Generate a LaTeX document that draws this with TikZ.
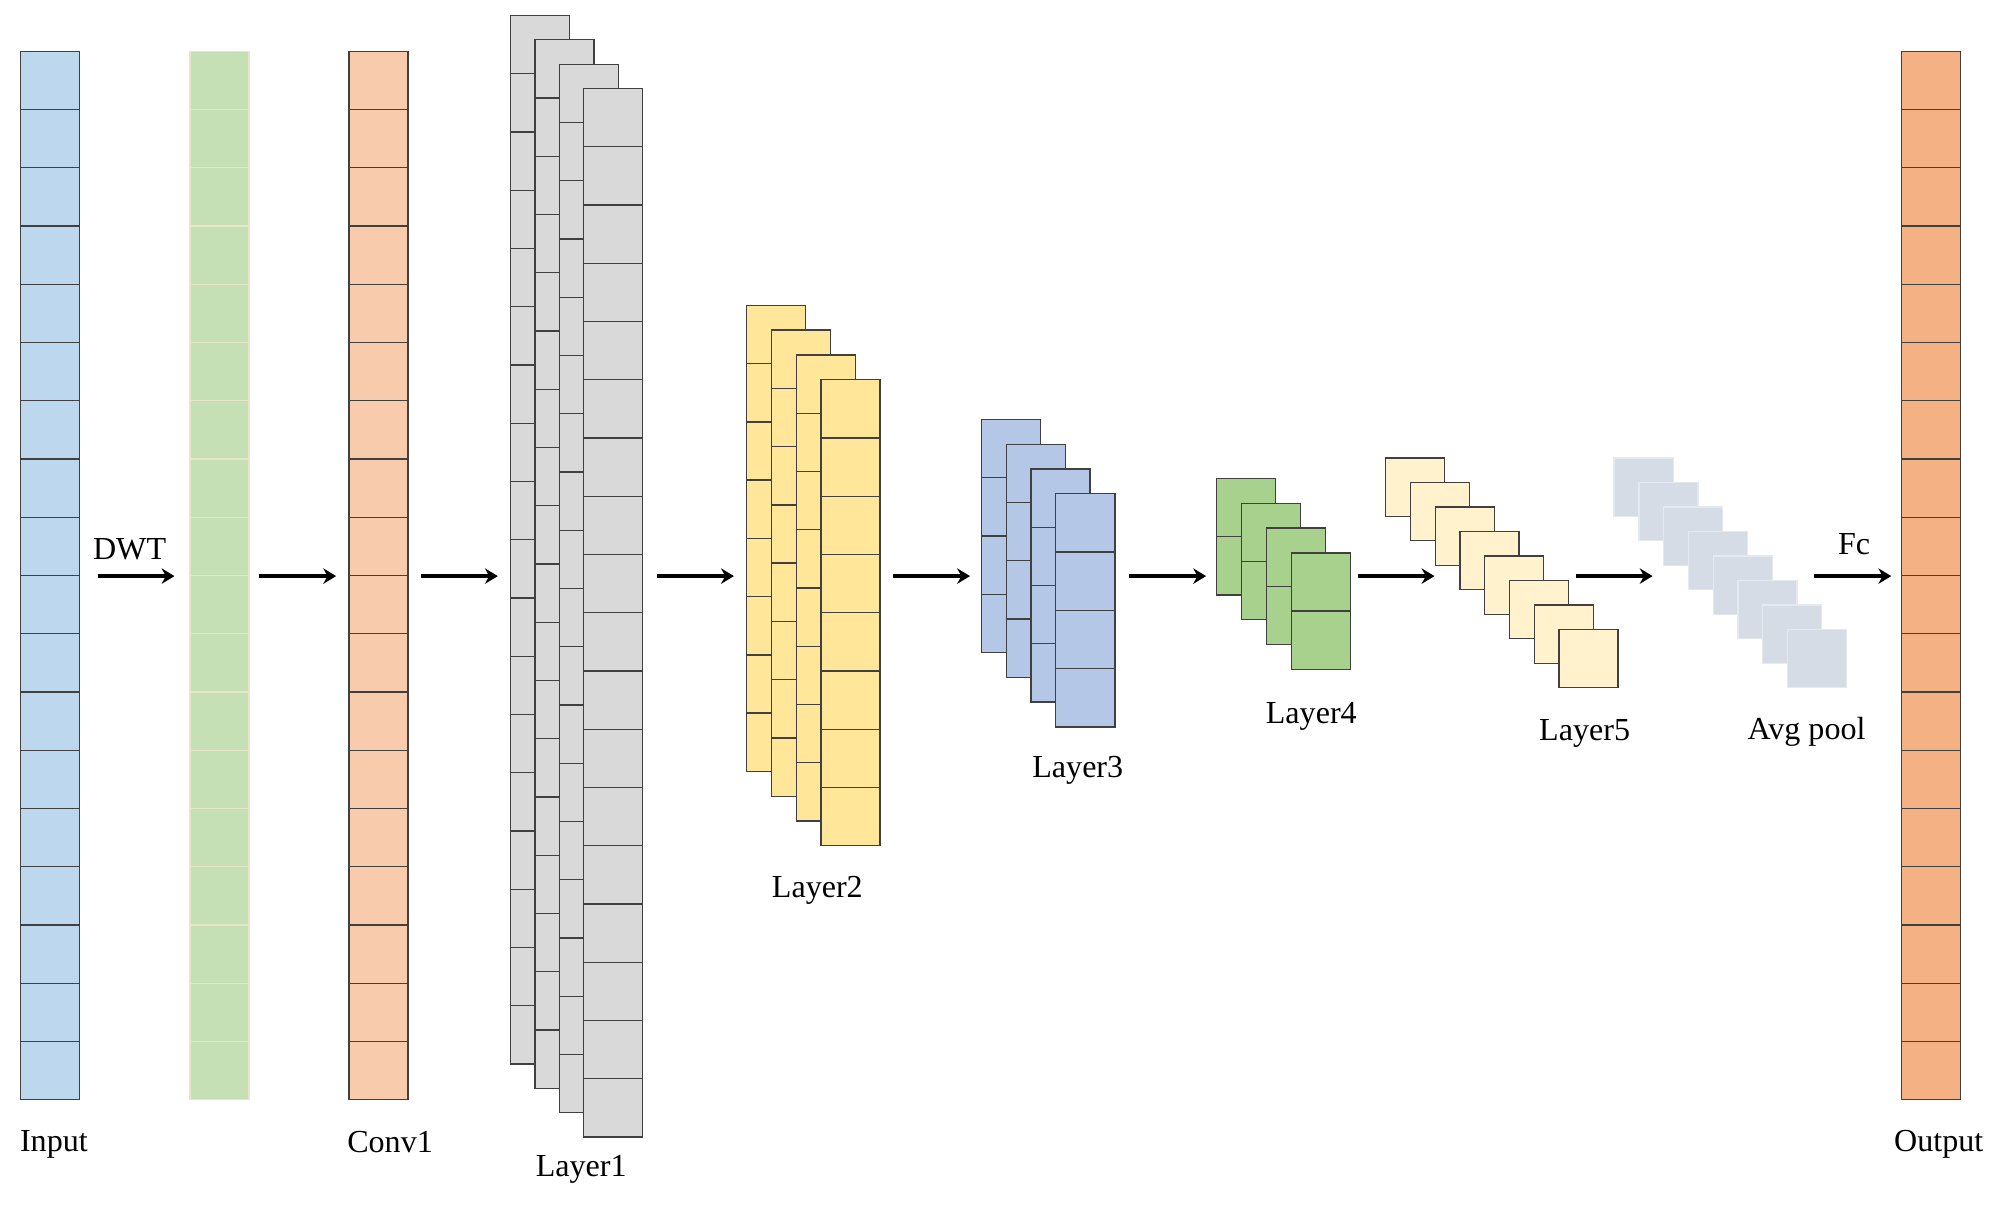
\documentclass[tikz,border=0pt]{standalone}
\usepackage{fontspec}
\setmainfont{Liberation Serif}
\usetikzlibrary{arrows.meta}
\definecolor{cin}{HTML}{BDD7EE}
\definecolor{cgr}{HTML}{C5E0B4}
\definecolor{cgrl}{HTML}{E9E5C8}
\definecolor{cconv}{HTML}{F8CBAD}
\definecolor{cgray}{HTML}{D9D9D9}
\definecolor{cyel}{HTML}{FFE699}
\definecolor{cbl}{HTML}{B4C7E7}
\definecolor{cgn}{HTML}{A9D18E}
\definecolor{ccr}{HTML}{FFF2CC}
\definecolor{cav}{HTML}{D6DCE5}
\definecolor{cavl}{HTML}{E4E9EF}
\definecolor{cout}{HTML}{F4B183}
\begin{document}
\begin{tikzpicture}[x=1pt,y=-1pt,
  lbl/.style={font=\fontsize{25}{30}\selectfont},
  arr/.style={line width=3pt,-{Stealth[length=10pt,width=12pt]}}]
\useasboundingbox (0,0) rectangle (1565,941);
% column: x, ytop, ncells, fill, draw
\newcommand\mycolumn[5]{%
  \foreach \k in {1,...,#3}{%
    \filldraw[fill=#4,draw=#5,line width=1pt] (#1,{#2+(\k-1)*45.4}) rectangle ++(46,45.4);}}
% stack: x0, y0, ncols, dx, dy, ncells, fill, draw
\newcommand\mystack[8]{%
  \foreach \j in {0,...,\numexpr#3-1\relax}{%
    \mycolumn{#1+\j*#4}{#2+\j*#5}{#6}{#7}{#8}}}
\mycolumn{16}{40}{18}{cin}{black!75}
\mycolumn{148}{40}{18}{cgr}{cgrl}
\mycolumn{272}{40}{18}{cconv}{black!75}
\mystack{398}{12}{4}{19}{19}{18}{cgray}{black!75}
\mystack{582}{238}{4}{19.3}{19.3}{8}{cyel}{black!75}
\mystack{765}{327}{4}{19.3}{19.3}{4}{cbl}{black!75}
\mystack{948}{373}{4}{19.6}{19.3}{2}{cgn}{black!75}
\mystack{1080}{357}{8}{19.3}{19.1}{1}{ccr}{black!75}
\mystack{1258}{357}{8}{19.3}{19.1}{1}{cav}{cavl}
\mycolumn{1482}{40}{18}{cout}{black!75}
% arrows
\foreach \a/\b [count=\i] in {76/136,202/262,328/388,512/572,696/756,880/940,1058/1118,1228/1288,1414/1474}{
  \coordinate (s\i) at (\a,449); \coordinate (e\i) at (\b,449);
  \draw[arr] (s\i) -- (e\i);}
\node[lbl] (dwt) at (101,428) {DWT};
\node[lbl] (fc) at (1445,424) {Fc};
\node[lbl] (l0) at (42,892) {Input};
\node[lbl] (l1) at (304,890) {Conv1};
\node[lbl] (l2) at (453,911) {Layer1};
\node[lbl] (l3) at (637,694) {Layer2};
\node[lbl] (l4) at (840,600) {Layer3};
\node[lbl] (l5) at (1022,558) {Layer4};
\node[lbl] (l6) at (1235,572) {Layer5};
\node[lbl] (l7) at (1408,570) {Avg pool};
\node[lbl] (l8) at (1511,892) {Output};
\end{tikzpicture}
\end{document}
